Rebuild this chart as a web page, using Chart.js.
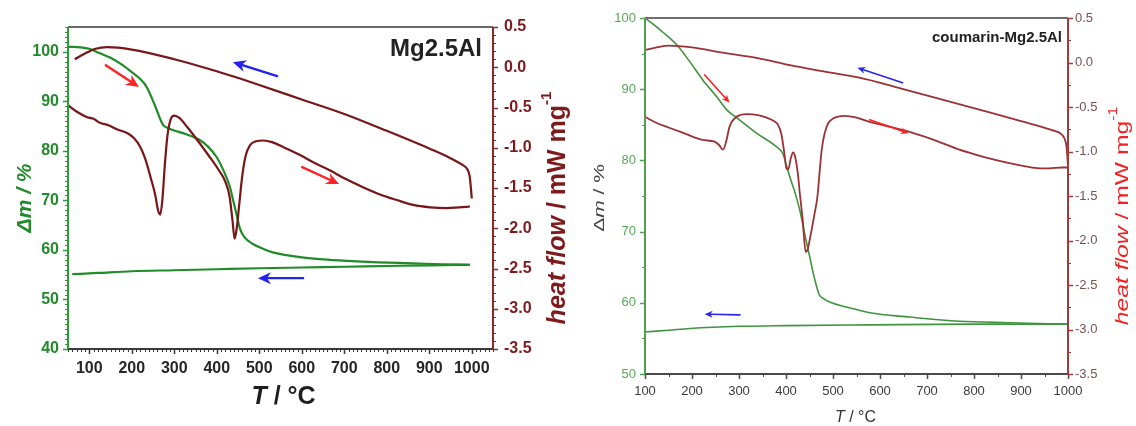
<!DOCTYPE html>
<html>
<head>
<meta charset="utf-8">
<script src="https://cdn.jsdelivr.net/npm/chart.js@4.4.1/dist/chart.umd.min.js"></script>
<style>
  html, body { margin: 0; padding: 0; background: #fff; }
  #wrap { position: relative; width: 1136px; height: 426px; overflow: hidden; background: #fff; }
  canvas { position: absolute; top: 0; }
  #c1 { left: 0; width: 575px; height: 426px; }
  #c2 { left: 575px; width: 561px; height: 426px; }
</style>
</head>
<body>
<div id="wrap">
  <canvas id="c1" width="575" height="426"></canvas>
  <canvas id="c2" width="561" height="426"></canvas>
</div>
<script>
const FONT = '"Liberation Sans", Arial, Helvetica, sans-serif';

// ---------- Mg2.5Al ----------
// TG, heating (temperature in °C, mass in %)
const mgTgHeatT = [50,80,100,125,150,175,203,220,235,248,259,267,274,285,297,330,360,380,400,415,431,440,447,455,465,485,510,532,560,600,650,706,780,862,930,996];
const mgTgHeat  = [101.0,100.9,100.6,99.7,98.8,97.5,95.7,94.5,92.9,90.5,88.2,86.4,85.2,84.6,84.2,83.3,82.2,80.8,78.7,76.2,72.7,69.5,67.0,64.2,62.6,61.2,60.2,59.5,59.0,58.5,58.1,57.8,57.5,57.3,57.1,57.0];
// TG, cooling
const mgTgCoolT = [60,120,200,300,400,500,600,700,800,900,996];
const mgTgCool  = [55.1,55.35,55.7,55.9,56.1,56.3,56.45,56.6,56.75,56.9,57.0];
// DSC, heating (mW/mg)
const mgDscHeatT = [50,70,95,110,125,145,165,190,205,220,232,245,255,262,267,272,278,284,292,300,312,330,355,380,405,420,430,437,442,447,453,460,468,478,492,510,530,556,596,627,666,700,744,784,824,862,902,941,970,996];
const mgDscHeat  = [-0.47,-0.55,-0.62,-0.64,-0.69,-0.72,-0.77,-0.82,-0.88,-0.99,-1.14,-1.38,-1.58,-1.78,-1.83,-1.65,-1.2,-0.85,-0.64,-0.60,-0.63,-0.74,-0.91,-1.09,-1.28,-1.42,-1.6,-1.9,-2.13,-2.0,-1.7,-1.35,-1.1,-0.97,-0.92,-0.91,-0.93,-0.99,-1.09,-1.18,-1.28,-1.38,-1.49,-1.58,-1.65,-1.71,-1.74,-1.75,-1.74,-1.73];
// DSC, cooling
const mgDscCoolT = [66,90,115,142,200,300,400,500,600,700,800,900,950,980,990,995,998,1000];
const mgDscCool  = [0.10,0.17,0.23,0.25,0.22,0.10,-0.05,-0.22,-0.40,-0.58,-0.79,-1.01,-1.13,-1.22,-1.27,-1.35,-1.5,-1.63];
// tick labels
const mgTempTicks = [100,200,300,400,500,600,700,800,900,1000];
const mgMassTicks = [40,50,60,70,80,90,100];
const mgHeatTicks = [-3.5,-3.0,-2.5,-2.0,-1.5,-1.0,-0.5,0.0,0.5];

// ---------- coumarin-Mg2.5Al ----------
const cmTgHeatT = [100,120,138,168,196,223,253,274,295,338,380,393,400,408,420,430,440,450,460,471,480,493,535,578,663,769,875,1000];
const cmTgHeat  = [100,99.0,98.0,96.2,93.8,91.3,88.9,87.1,86.0,83.8,81.9,81.0,79.5,77.7,75.3,72.8,69.6,66.6,63.6,61.1,60.6,60.1,59.3,58.6,58.0,57.4,57.2,57.0];
const cmTgCoolT = [100,150,196,302,400,578,800,1000];
const cmTgCool  = [55.9,56.15,56.4,56.7,56.8,56.9,57.0,57.0];
const cmDscHeatT = [100,125,150,181,223,248,258,266,273,280,295,317,340,359,375,383,390,396,401,405,410,415,419,425,430,435,442,446,452,460,467,472,476,482,490,500,525,550,580,620,663,720,769,820,875,924,960,987,1000];
const cmDscHeat  = [-0.61,-0.68,-0.73,-0.79,-0.87,-0.89,-0.93,-0.98,-0.88,-0.72,-0.61,-0.58,-0.59,-0.62,-0.66,-0.70,-0.80,-1.0,-1.19,-1.2,-1.08,-1.01,-1.05,-1.24,-1.5,-1.74,-2.13,-2.1,-1.95,-1.72,-1.5,-1.2,-0.98,-0.80,-0.68,-0.63,-0.60,-0.62,-0.67,-0.72,-0.78,-0.88,-0.98,-1.06,-1.13,-1.18,-1.19,-1.18,-1.18];
const cmDscCoolT = [100,125,150,200,266,340,408,480,556,630,699,770,839,900,966,987,993,997,1000];
const cmDscCool  = [0.14,0.17,0.19,0.17,0.11,0.05,-0.03,-0.10,-0.17,-0.27,-0.37,-0.47,-0.57,-0.66,-0.76,-0.81,-0.86,-0.95,-1.17];
const cmTempTicks = [100,200,300,400,500,600,700,800,900,1000];
const cmMassTicks = [50,60,70,80,90,100];
const cmHeatTicks = [-3.5,-3.0,-2.5,-2.0,-1.5,-1.0,-0.5,0.0,0.5];

// ---------- helpers ----------
function pts(xs, ys) { return xs.map((x, i) => ({ x: x, y: ys[i] })); }

function curve(xs, ys, color, width, axis) {
  return {
    data: pts(xs, ys), yAxisID: axis, borderColor: color, borderWidth: width,
    showLine: true, pointRadius: 0, pointHoverRadius: 0, fill: false,
    cubicInterpolationMode: 'monotone'
  };
}

function minorValues(min, max, step) {
  const out = [];
  const n = Math.round((max - min) / step);
  for (let i = 0; i <= n; i++) out.push(min + i * step);
  return out;
}

// draws a row of differently styled text pieces centred on (cx, cy)
function drawRuns(ctx, runs, cx, cy, rot, color, stretch) {
  ctx.save();
  ctx.translate(cx, cy);
  ctx.rotate(rot);
  ctx.scale(stretch || 1, 1);
  ctx.fillStyle = color;
  ctx.textBaseline = 'middle';
  ctx.textAlign = 'left';
  let total = 0;
  runs.forEach(r => { ctx.font = r.font; r.w = ctx.measureText(r.text).width; total += r.w; });
  let x = -total / 2;
  runs.forEach(r => { ctx.font = r.font; ctx.fillText(r.text, x, r.dy || 0); x += r.w; });
  ctx.restore();
}

function drawArrow(ctx, x0, y0, x1, y1, color, lw, hl, hw) {
  const a = Math.atan2(y1 - y0, x1 - x0);
  const c = Math.cos(a), s = Math.sin(a);
  const bx = x1 - hl * c, by = y1 - hl * s;
  ctx.save();
  ctx.strokeStyle = color; ctx.fillStyle = color; ctx.lineWidth = lw; ctx.lineCap = 'round';
  ctx.beginPath(); ctx.moveTo(x0, y0); ctx.lineTo(bx + hl * 0.3 * c, by + hl * 0.3 * s); ctx.stroke();
  ctx.beginPath();
  ctx.moveTo(x1, y1);
  ctx.lineTo(bx - hw / 2 * s, by + hw / 2 * c);
  ctx.lineTo(bx + hl * 0.3 * c, by + hl * 0.3 * s);
  ctx.lineTo(bx + hw / 2 * s, by - hw / 2 * c);
  ctx.closePath(); ctx.fill();
  ctx.restore();
}

function tickMarks(ctx, scale, values, side, edge, len, color, width) {
  ctx.strokeStyle = color; ctx.lineWidth = width; ctx.lineCap = 'butt';
  ctx.beginPath();
  values.forEach(v => {
    const p = Math.round(scale.getPixelForValue(v)) + 0.5;
    if (side === 'bottom') { ctx.moveTo(p, edge); ctx.lineTo(p, edge + len); }
    else if (side === 'left') { ctx.moveTo(edge, p); ctx.lineTo(edge - len, p); }
    else { ctx.moveTo(edge, p); ctx.lineTo(edge + len, p); }
  });
  ctx.stroke();
}

// axes, ticks, titles and arrows of one panel
function panelPlugin(P) {
  return {
    id: 'panelDeco',
    afterDatasetsDraw(chart) {
      const ctx = chart.ctx, a = chart.chartArea, sc = chart.scales;
      ctx.save();
      // ticks
      tickMarks(ctx, sc.x, minorValues(sc.x.min, sc.x.max, P.xMinor), 'bottom', a.bottom, P.minorLen, P.xAxisColor, 1);
      tickMarks(ctx, sc.x, P.xTicks, 'bottom', a.bottom, P.majorLen, P.xAxisColor, 1.5);
      tickMarks(ctx, sc.y, minorValues(sc.y.min, sc.y.max, P.yMinor), 'left', a.left, P.minorLen, P.yAxisColor, 1);
      tickMarks(ctx, sc.y, P.yTicks, 'left', a.left, P.majorLen, P.yAxisColor, 1.5);
      tickMarks(ctx, sc.y1, minorValues(sc.y1.min, sc.y1.max, P.y1Minor), 'right', a.right, P.minorLen, P.y1AxisColor, 1);
      tickMarks(ctx, sc.y1, P.y1Ticks, 'right', a.right, P.majorLen, P.y1AxisColor, 1.5);
      // frame lines
      ctx.lineCap = 'butt';
      ctx.strokeStyle = P.topColor; ctx.lineWidth = P.axisWidth;
      ctx.beginPath(); ctx.moveTo(a.left, a.top); ctx.lineTo(a.right, a.top); ctx.stroke();
      ctx.strokeStyle = P.xAxisColor;
      ctx.beginPath(); ctx.moveTo(a.left, a.bottom); ctx.lineTo(a.right, a.bottom); ctx.stroke();
      ctx.strokeStyle = P.yAxisColor;
      ctx.beginPath(); ctx.moveTo(a.left, a.top); ctx.lineTo(a.left, a.bottom); ctx.stroke();
      ctx.strokeStyle = P.y1AxisColor;
      ctx.beginPath(); ctx.moveTo(a.right, a.top); ctx.lineTo(a.right, a.bottom + 1); ctx.stroke();
      // arrows
      P.arrows.forEach(ar => {
        drawArrow(ctx,
          sc.x.getPixelForValue(ar.from[0]), sc.y.getPixelForValue(ar.from[1]),
          sc.x.getPixelForValue(ar.to[0]), sc.y.getPixelForValue(ar.to[1]),
          ar.color, P.arrowWidth, P.headLen, P.headWidth);
      });
      ctx.restore();
    },
    afterDraw(chart) {
      const ctx = chart.ctx, a = chart.chartArea;
      const midX = (a.left + a.right) / 2, midY = (a.top + a.bottom) / 2;
      drawRuns(ctx, P.yTitle.runs, a.left + P.yTitle.dx, midY + P.yTitle.dy, -Math.PI / 2, P.yTitle.color, P.yTitle.stretch);
      drawRuns(ctx, P.y1Title.runs, a.right + P.y1Title.dx, midY + P.y1Title.dy, -Math.PI / 2, P.y1Title.color, P.y1Title.stretch);
      drawRuns(ctx, P.xTitle.runs, midX + P.xTitle.dx, a.bottom + P.xTitle.dy, 0, P.xTitle.color, 1);
      ctx.save();
      ctx.font = P.label.font; ctx.fillStyle = P.label.color;
      ctx.textAlign = 'right'; ctx.textBaseline = 'alphabetic';
      ctx.fillText(P.label.text, a.right + P.label.dx, a.top + P.label.dy);
      ctx.restore();
    }
  };
}

function makeChart(canvasId, P, datasets) {
  const fixedTicks = list => (s => { s.ticks = list.map(v => ({ value: v })); });
  return new Chart(document.getElementById(canvasId), {
    type: 'scatter',
    data: { datasets: datasets },
    options: {
      responsive: false, animation: false, devicePixelRatio: 1,
      layout: { padding: { top: P.padTop, left: 0, right: 0, bottom: 0 } },
      plugins: { legend: { display: false }, tooltip: { enabled: false } },
      scales: {
        x: {
          type: 'linear', min: P.xMin, max: P.xMax,
          grid: { display: false, drawTicks: false }, border: { display: false },
          afterBuildTicks: fixedTicks(P.xTicks),
          afterFit: s => { s.height = P.xHeight; },
          ticks: { autoSkip: false, maxRotation: 0, padding: P.xPad, color: P.xLabelColor,
                   font: P.tickFont, callback: v => String(v) }
        },
        y: {
          type: 'linear', position: 'left', min: P.yMin, max: P.yMax,
          grid: { display: false, drawTicks: false }, border: { display: false },
          afterBuildTicks: fixedTicks(P.yTicks),
          afterFit: s => { s.width = P.yWidth; },
          ticks: { autoSkip: false, padding: P.yPad, color: P.yLabelColor,
                   font: P.tickFont, callback: v => String(v) }
        },
        y1: {
          type: 'linear', position: 'right', min: -3.5, max: 0.5,
          grid: { display: false, drawTicks: false }, border: { display: false },
          afterBuildTicks: fixedTicks(P.y1Ticks),
          afterFit: s => { s.width = P.y1Width; },
          ticks: { autoSkip: false, padding: P.y1Pad, color: P.y1LabelColor,
                   font: P.tickFont, callback: v => v.toFixed(1) }
        }
      }
    },
    plugins: [panelPlugin(P)]
  });
}

// ---------- left panel ----------
const P1 = {
  padTop: 27, xHeight: 77, yWidth: 68, y1Width: 82,
  xMin: 50, xMax: 1050, yMin: 40, yMax: 105,
  xTicks: mgTempTicks, yTicks: mgMassTicks, y1Ticks: mgHeatTicks,
  xMinor: 10, yMinor: 1, y1Minor: 0.1,
  xPad: 10, yPad: 9, y1Pad: 11,
  tickFont: { family: FONT, size: 16, weight: 'bold' },
  xLabelColor: '#262626', yLabelColor: '#238a2c', y1LabelColor: '#7e1a1c',
  xAxisColor: '#3a3a3a', yAxisColor: '#2e9a38', y1AxisColor: '#8a2a2c', topColor: '#6a6a6a',
  axisWidth: 2, majorLen: 5, minorLen: 3,
  arrowWidth: 2.4, headLen: 13, headWidth: 12,
  arrows: [
    { from: [139, 97.3], to: [217, 92.9], color: '#ff2222' },
    { from: [542, 95.1], to: [438, 97.9], color: '#2323ee' },
    { from: [601, 76.7], to: [688, 73.3], color: '#ff2222' },
    { from: [603, 54.3], to: [497, 54.3], color: '#2323ee' }
  ],
  yTitle: { dx: -43, dy: 10, color: '#238a2c', stretch: 1,
            runs: [{ text: '\u0394m / %', font: 'italic bold 21px ' + FONT }] },
  y1Title: { dx: 65, dy: 20, color: '#7e1a1c', stretch: 1,
             runs: [{ text: 'heat flow', font: 'italic bold 25px ' + FONT },
                    { text: ' / mW mg', font: 'bold 25px ' + FONT },
                    { text: '-1', font: 'bold 15px ' + FONT, dy: -11 }] },
  xTitle: { dx: 3, dy: 48, color: '#1e1e1e',
            runs: [{ text: 'T', font: 'italic bold 25px ' + FONT },
                   { text: ' / \u00B0C', font: 'bold 25px ' + FONT }] },
  label: { text: 'Mg2.5Al', font: 'bold 24px ' + FONT, color: '#222', dx: -11, dy: 29 }
};

makeChart('c1', P1, [
  curve(mgDscCoolT, mgDscCool, '#7a1518', 2.2, 'y1'),
  curve(mgDscHeatT, mgDscHeat, '#7a1518', 2.2, 'y1'),
  curve(mgTgHeatT, mgTgHeat, '#1f8c27', 2.2, 'y'),
  curve(mgTgCoolT, mgTgCool, '#1f8c27', 2.2, 'y')
]);

// ---------- right panel ----------
const P2 = {
  padTop: 18, xHeight: 52, yWidth: 70, y1Width: 68,
  xMin: 100, xMax: 1000, yMin: 50, yMax: 100,
  xTicks: cmTempTicks, yTicks: cmMassTicks, y1Ticks: cmHeatTicks,
  xMinor: 50, yMinor: 5, y1Minor: 0.25,
  xPad: 10, yPad: 9, y1Pad: 7,
  tickFont: { family: FONT, size: 13, weight: 'normal' },
  xLabelColor: '#3c3c3c', yLabelColor: '#58a858', y1LabelColor: '#7a5050',
  xAxisColor: '#4a4a4a', yAxisColor: '#4fa04f', y1AxisColor: '#a23a3a', topColor: '#6e6e6e',
  axisWidth: 2, majorLen: 5, minorLen: 3,
  arrowWidth: 1.6, headLen: 8, headWidth: 7,
  arrows: [
    { from: [227, 92.0], to: [280, 88.1], color: '#ff2020' },
    { from: [648, 90.9], to: [552, 93.0], color: '#2828e6' },
    { from: [578, 85.7], to: [661, 83.8], color: '#ff2020' },
    { from: [302, 58.3], to: [227, 58.4], color: '#2828e6' }
  ],
  yTitle: { dx: -45, dy: 2, color: '#444', stretch: 1.4,
            runs: [{ text: '\u0394', font: '15px ' + FONT },
                   { text: 'm', font: 'italic 15px ' + FONT },
                   { text: ' / %', font: '15px ' + FONT }] },
  y1Title: { dx: 55, dy: 20, color: '#ee2424', stretch: 1.3,
             runs: [{ text: 'heat flow', font: 'italic 19px ' + FONT },
                    { text: ' / mW mg', font: '19px ' + FONT },
                    { text: '-1', font: '12px ' + FONT, dy: -9 }] },
  xTitle: { dx: -1, dy: 44, color: '#333',
            runs: [{ text: 'T', font: 'italic 16px ' + FONT },
                   { text: ' / \u00B0C', font: '16px ' + FONT }] },
  label: { text: 'coumarin-Mg2.5Al', font: 'bold 15px ' + FONT, color: '#222', dx: -6, dy: 24 }
};

makeChart('c2', P2, [
  curve(cmDscCoolT, cmDscCool, '#9c3234', 1.8, 'y1'),
  curve(cmDscHeatT, cmDscHeat, '#9c3234', 1.8, 'y1'),
  curve(cmTgHeatT, cmTgHeat, '#3f943f', 1.6, 'y'),
  curve(cmTgCoolT, cmTgCool, '#3f943f', 1.6, 'y')
]);
</script>
</body>
</html>
